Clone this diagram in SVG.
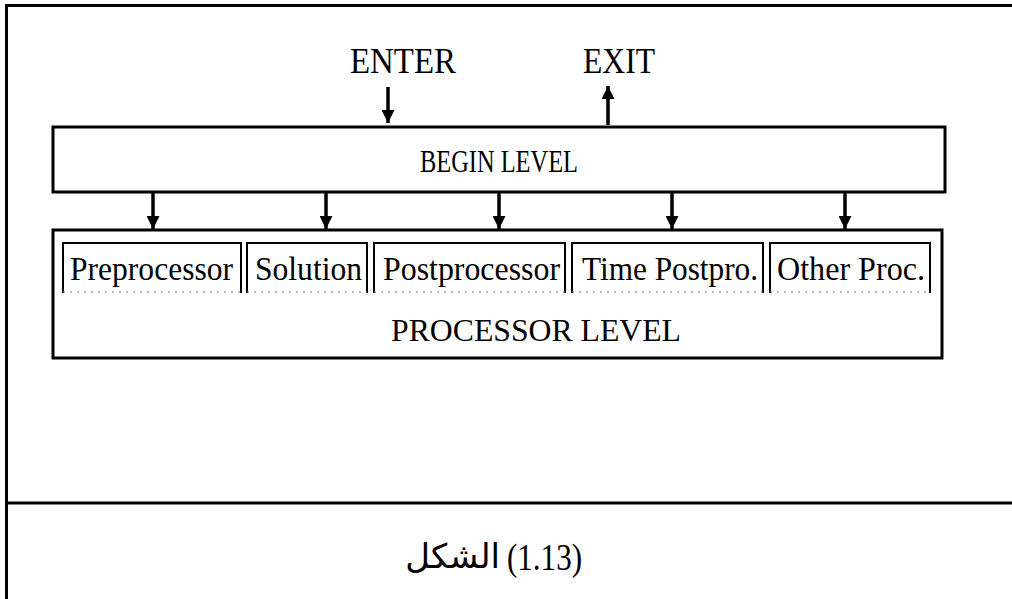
<svg xmlns="http://www.w3.org/2000/svg" width="1012" height="599" viewBox="0 0 1012 599">
<style>
.frame{fill:none;stroke:#000;stroke-width:3}
.box{fill:#fff;stroke:#000;stroke-width:3}
.sub{fill:none;stroke:#000;stroke-width:2}
.dots{fill:none;stroke:#777;stroke-width:1.2;stroke-dasharray:2 5}
.t{font-family:"Liberation Serif","Times New Roman",serif;fill:#000}
.shaft{stroke:#000;stroke-width:3.5}
.cap{font-family:"Liberation Serif","DejaVu Serif","DejaVu Sans",serif;fill:#000}
</style>
<defs>
<marker id="ah" viewBox="0 0 10 10" refX="10" refY="5" markerWidth="14" markerHeight="13" markerUnits="userSpaceOnUse" orient="auto">
<path d="M0,0 L10,5 L0,10 z" fill="#000"/>
</marker>
<marker id="ahs" viewBox="0 0 10 10" refX="10" refY="5" markerWidth="13" markerHeight="13" markerUnits="userSpaceOnUse" orient="auto">
<path d="M0,0 L10,5 L0,10 z" fill="#000"/>
</marker>
</defs>
<g id="frame">
<path class="frame" d="M1012,5.5 H6.5 V599"/>
<line x1="6.5" y1="503" x2="1012" y2="503" stroke="#000" stroke-width="3"/>
</g>
<g id="enter-label"><text class="t" x="350" y="73" font-size="36" textLength="106" lengthAdjust="spacingAndGlyphs">ENTER</text></g>
<g id="exit-label"><text class="t" x="583" y="73" font-size="36" textLength="72" lengthAdjust="spacingAndGlyphs">EXIT</text></g>
<g id="begin-level">
<rect class="box" x="53" y="127" width="892" height="65"/>
<text class="t" x="420" y="172" font-size="32" textLength="158" lengthAdjust="spacingAndGlyphs">BEGIN LEVEL</text>
</g>
<g id="processor-level">
<rect class="box" x="53" y="230" width="889" height="128"/>
<text class="t" x="391" y="341" font-size="32" textLength="290" lengthAdjust="spacingAndGlyphs">PROCESSOR LEVEL</text>
</g>
<g id="preprocessor">
<path class="sub" d="M63,293 V243 H241 V293"/><line class="dots" x1="63" y1="292" x2="241" y2="292"/>
<text class="t" x="70" y="280" font-size="33" textLength="163" lengthAdjust="spacingAndGlyphs">Preprocessor</text>
</g>
<g id="solution">
<path class="sub" d="M247,293 V243 H367 V293"/><line class="dots" x1="247" y1="292" x2="367" y2="292"/>
<text class="t" x="255" y="280" font-size="33" textLength="107" lengthAdjust="spacingAndGlyphs">Solution</text>
</g>
<g id="postprocessor">
<path class="sub" d="M374,293 V243 H565 V293"/><line class="dots" x1="374" y1="292" x2="565" y2="292"/>
<text class="t" x="383" y="280" font-size="33" textLength="177" lengthAdjust="spacingAndGlyphs">Postprocessor</text>
</g>
<g id="time-postpro">
<path class="sub" d="M572,293 V243 H763 V293"/><line class="dots" x1="572" y1="292" x2="763" y2="292"/>
<text class="t" x="582" y="280" font-size="33" textLength="176" lengthAdjust="spacingAndGlyphs">Time Postpro.</text>
</g>
<g id="other-proc">
<path class="sub" d="M770,293 V243 H930 V293"/><line class="dots" x1="770" y1="292" x2="930" y2="292"/>
<text class="t" x="777" y="280" font-size="33" textLength="148" lengthAdjust="spacingAndGlyphs">Other Proc.</text>
</g>
<g id="connectors">
<line class="shaft" x1="388" y1="87" x2="388" y2="123" marker-end="url(#ah)"/>
<line class="shaft" x1="608" y1="125" x2="608" y2="86" marker-end="url(#ah)"/>
<line class="shaft" x1="153" y1="193" x2="153" y2="229" marker-end="url(#ahs)"/>
<line class="shaft" x1="326" y1="193" x2="326" y2="229" marker-end="url(#ahs)"/>
<line class="shaft" x1="499" y1="193" x2="499" y2="229" marker-end="url(#ahs)"/>
<line class="shaft" x1="672" y1="193" x2="672" y2="229" marker-end="url(#ahs)"/>
<line class="shaft" x1="845" y1="193" x2="845" y2="229" marker-end="url(#ahs)"/>
</g>
<g id="caption">
<text class="cap" x="500" y="568" font-size="34" text-anchor="end">الشكل</text>
<text class="cap" x="507" y="570" font-size="37" textLength="75" lengthAdjust="spacingAndGlyphs">(1.13)</text>
</g>
</svg>
